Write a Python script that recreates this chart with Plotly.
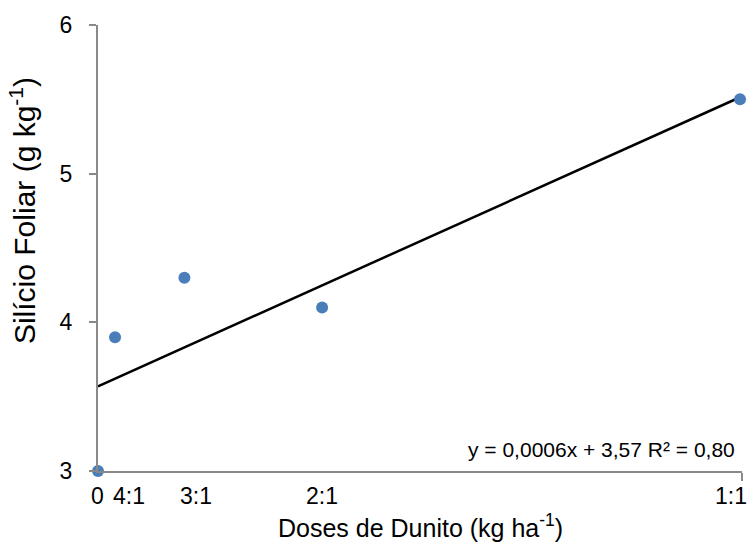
import plotly.graph_objects as go

# Dunito doses (kg/ha) and their ratio labels
doses = [0, 86, 436, 1131, 3240]
dose_labels = ["0", "4:1", "3:1", "2:1", "1:1"]
# Leaf silicon content (g/kg)
silicio = [3.0, 3.9, 4.3, 4.1, 5.5]

# Linear trend as reported: y = 0.0006x + 3.57, R² = 0.80
slope = 0.0006
intercept = 3.57
r2 = 0.80

y_ticks = [3, 4, 5, 6]
x_max = 3250

FONT = "Liberation Sans, Arial, sans-serif"
AXIS_GRAY = "#898989"

fig = go.Figure()

trend_x = [min(doses), max(doses)]
trend_y = [slope * x + intercept for x in trend_x]
fig.add_trace(go.Scatter(
    x=trend_x, y=trend_y, mode="lines",
    line=dict(color="black", width=2.5),
    hoverinfo="skip", showlegend=False,
))

fig.add_trace(go.Scatter(
    x=doses, y=silicio, mode="markers",
    marker=dict(color="#4a7ebb", size=12),
    cliponaxis=False, showlegend=False,
))

# Ratio labels under the dose axis
label_shift = {"0": -1, "4:1": 14, "3:1": 12, "2:1": 0, "1:1": -9}
for d, lab in zip(doses, dose_labels):
    fig.add_annotation(
        x=d, y=0, xref="x", yref="paper", yanchor="middle",
        yshift=-25, xshift=label_shift[lab], showarrow=False,
        text=lab, font=dict(family=FONT, size=23, color="black"),
    )

fig.add_annotation(
    x=1, y=0, xref="paper", yref="paper", xanchor="right", yanchor="middle",
    xshift=-5, yshift=22, showarrow=False,
    text=f"y = {slope:.4f}x + {intercept:.2f} R² = {r2:.2f}".replace(".", ","),
    font=dict(family=FONT, size=21, color="black"),
)

fig.add_annotation(
    x=0.5, y=0, xref="paper", yref="paper", yanchor="top",
    yshift=-37, showarrow=False,
    text="Doses de Dunito (kg ha<sup>-1</sup>)",
    font=dict(family=FONT, size=25, color="black"),
)

fig.add_annotation(
    x=-0.1165, y=0.585, xref="paper", yref="paper",
    xanchor="center", yanchor="middle", textangle=-90, showarrow=False,
    text="Silício Foliar (g kg<sup>-1</sup>)",
    font=dict(family=FONT, size=30, color="black"),
)

fig.update_layout(
    width=748, height=543,
    margin=dict(l=98, r=6, t=25, b=72),
    paper_bgcolor="white", plot_bgcolor="white",
    xaxis=dict(
        range=[0, x_max], showgrid=False, zeroline=False,
        showline=True, linecolor=AXIS_GRAY, linewidth=2,
        tickmode="array", tickvals=[x_max], ticks="outside",
        ticklen=8, tickwidth=2, tickcolor=AXIS_GRAY, showticklabels=False,
    ),
    yaxis=dict(
        range=[3, 6], showgrid=False, zeroline=False,
        showline=True, linecolor=AXIS_GRAY, linewidth=2,
        tickmode="array", tickvals=y_ticks, ticks="outside",
        ticklen=7, tickwidth=2, tickcolor=AXIS_GRAY,
        ticklabelstandoff=12,
        tickfont=dict(family=FONT, size=23, color="black"),
    ),
)

fig.write_html("out.html")
